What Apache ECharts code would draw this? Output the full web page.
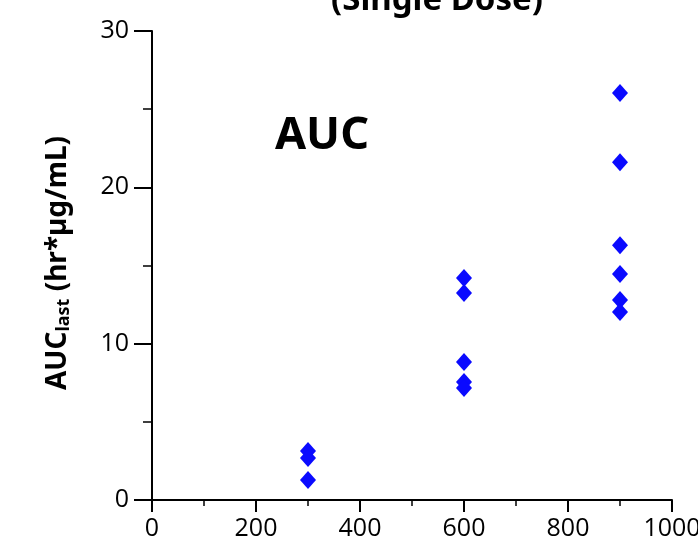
<!DOCTYPE html>
<html>
<head>
<meta charset="utf-8">
<script src="https://cdn.jsdelivr.net/npm/echarts@6/dist/echarts.min.js"></script>
<style>
  html, body { margin: 0; padding: 0; background: #fff; }
  #chart { width: 698px; height: 552px; }
</style>
</head>
<body>
<div id="chart"></div>
<script>
// dose levels and AUC values
const doses = [300, 600, 900];
const auc300 = [3.13, 2.69, 1.28];
const auc600 = [14.2, 13.24, 8.83, 7.55, 7.17];
const auc900 = [26.04, 21.6, 16.3, 14.46, 12.8, 12.03];
const xTicks = [0, 200, 400, 600, 800, 1000];
const yTicks = [0, 10, 20, 30];

const groups = [auc300, auc600, auc900];
const points = [];
groups.forEach((vals, i) => {
    vals.forEach(v => points.push([doses[i], v]));
});

const font = '"Open Sans", "Noto Sans", sans-serif';
const chart = echarts.init(document.getElementById('chart'));

chart.setOption({
    animation: false,
    grid: { left: 152, right: 26, top: 31, bottom: 52, containLabel: false, outerBoundsMode: 'none' },
    xAxis: {
        type: 'value',
        min: xTicks[0],
        max: xTicks[xTicks.length - 1],
        interval: 200,
        axisLine: { lineStyle: { color: '#000', width: 2 } },
        axisTick: { show: true, length: 12, lineStyle: { color: '#000', width: 2 } },
        minorTick: { show: true, splitNumber: 2, length: 6, lineStyle: { color: '#000', width: 1.5 } },
        splitLine: { show: false },
        axisLabel: {
            color: '#000', fontSize: 25, fontFamily: font, margin: 16,
            hideOverlap: false, formatter: v => String(v)
        }
    },
    yAxis: {
        type: 'value',
        min: yTicks[0],
        max: yTicks[yTicks.length - 1],
        interval: 10,
        axisLine: { show: true, lineStyle: { color: '#000', width: 2 } },
        axisTick: { show: true, length: 18, lineStyle: { color: '#000', width: 2 } },
        minorTick: { show: true, splitNumber: 2, length: 9, lineStyle: { color: '#000', width: 1.5 } },
        splitLine: { show: false },
        axisLabel: { color: '#000', fontSize: 25, fontFamily: font, margin: 23, formatter: v => String(v) }
    },
    series: [{
        type: 'scatter',
        data: points,
        symbol: 'diamond',
        symbolSize: [16, 18],
        itemStyle: { color: '#0a0aff', opacity: 1 }
    }],
    graphic: [
        {
            type: 'text',
            x: 437, y: -16,
            style: {
                text: '(Single Dose)',
                fontSize: 33, fontWeight: 'bold', fontFamily: '"Noto Sans", sans-serif',
                fill: '#000', textAlign: 'center'
            }
        },
        {
            type: 'text',
            x: 322, y: 114,
            style: {
                text: 'AUC',
                fontSize: 45, fontWeight: 'bold', fontFamily: '"Noto Sans", sans-serif',
                fill: '#000', textAlign: 'center'
            }
        },
        {
            type: 'text',
            x: 58, y: 263,
            rotation: Math.PI / 2,
            style: {
                text: '{m|AUC}{s|last}{m| (hr*µg/mL)}',
                textAlign: 'center',
                textVerticalAlign: 'middle',
                rich: {
                    m: { fontSize: 28, fontWeight: 'bold', fontFamily: '"Noto Sans", sans-serif', fill: '#000' },
                    s: { fontSize: 18, fontWeight: 'bold', fontFamily: '"Noto Sans", sans-serif', fill: '#000', padding: [12, 0, 0, 0] }
                }
            }
        }
    ]
});
</script>
</body>
</html>
